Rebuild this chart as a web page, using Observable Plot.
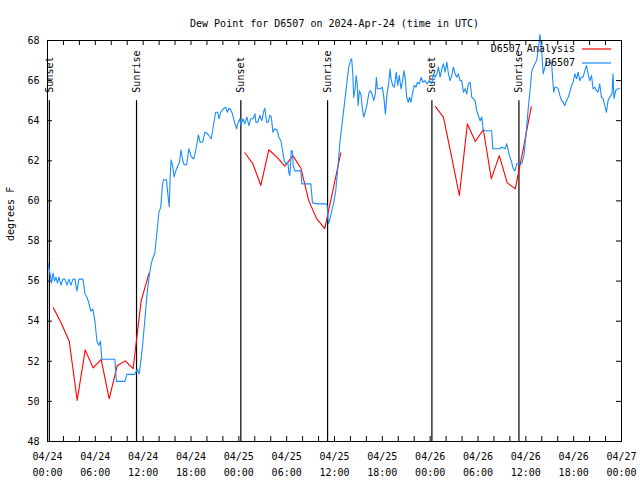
<!DOCTYPE html>
<html>
<head>
<meta charset="utf-8">
<script src="https://cdn.jsdelivr.net/npm/d3@7"></script>
<script src="https://cdn.jsdelivr.net/npm/@observablehq/plot@0.6"></script>
<style>
  html, body { margin: 0; padding: 0; background: #fff; }
  #chart { width: 640px; height: 480px; }
</style>
</head>
<body>
<div id="chart"></div>
<script>
// ---------- data ----------
const titleText = "Dew Point for D6507 on 2024-Apr-24 (time in UTC)";
const yLabel = "degrees F";
const startTime = "2024-04-24T00:00:00Z";
const endTime = "2024-04-27T00:00:00Z";
const yDomain = [48, 68];
const yTicks = [48, 50, 52, 54, 56, 58, 60, 62, 64, 66, 68];

const seriesNames = ["D6507 Analysis", "D6507"];
const seriesColors = ["#ff0000", "#1a8cff"];

// sunrise / sunset events
const eventTimes = ["2024-04-24T00:14:00Z", "2024-04-24T11:10:00Z", "2024-04-25T00:15:00Z",
                    "2024-04-25T11:08:00Z", "2024-04-26T00:13:00Z", "2024-04-26T11:08:00Z"];
const eventLabels = ["Sunset", "Sunrise", "Sunset", "Sunrise", "Sunset", "Sunrise"];
const eventLineTop = 65;

// D6507 Analysis: hours since start, dew point (null = gap)
const anaHours = [0.73, 1.73, 2.73, 3.72, 4.73, 5.73, 6.73, 7.74, 8.74, 9.74, 10.74, 11.74, 12.74,
  null,
  24.76, 25.76, 26.76, 27.76, 28.77, 29.77, 30.78, 31.78, 32.78, 33.78, 34.78, 35.79, 36.79,
  null,
  48.66, 49.66, 50.66, 51.66, 52.67, 53.67, 54.67, 55.67, 56.67, 57.67, 58.67, 59.68, 60.68];
const anaValues = [54.67, 53.9, 53.0, 50.05, 52.57, 51.67, 52.1, 50.13, 51.78, 52.02, 51.63, 55.0, 56.4,
  null,
  62.4, 61.85, 60.77, 62.55, 62.18, 61.73, 62.26, 61.63, 60.0, 59.1, 58.62, 60.5, 62.4,
  null,
  64.7, 64.18, 62.26, 60.27, 63.84, 62.96, 63.56, 61.1, 62.26, 60.9, 60.6, 62.6, 64.7];

// D6507 observations: hours since start, dew point
const obsHours = [0.06,0.31,0.50,0.69,0.88,1.06,1.25,1.44,1.69,1.94,2.19,2.44,2.69,2.94,3.19,3.44,3.69,3.94,4.19,4.44,
  4.69,4.94,5.19,5.44,5.69,5.95,6.20,6.45,6.64,6.82,7.57,8.45,8.64,9.70,9.95,10.95,11.27,11.49,11.71,11.95,
  12.24,12.52,12.77,13.02,13.27,13.46,13.67,13.80,13.96,14.21,14.42,14.55,14.92,15.17,15.27,15.37,15.50,15.67,15.88,16.09,
  16.30,16.55,16.75,16.96,17.15,17.46,17.72,18.03,18.34,18.59,18.93,19.13,19.46,19.75,20.05,20.25,20.55,20.81,21.10,21.35,
  21.51,21.72,22.06,22.35,22.56,22.76,22.97,23.19,23.47,23.73,23.91,24.14,24.26,24.51,24.76,25.01,25.26,25.51,25.77,26.02,
  26.14,26.39,26.64,26.89,27.14,27.27,27.48,27.69,27.89,28.07,28.27,28.52,28.77,29.02,29.27,29.45,29.70,29.90,30.15,30.27,
  30.40,30.57,30.70,30.82,31.02,31.78,31.90,33.03,33.24,33.83,34.91,35.08,35.24,35.37,35.66,35.91,36.16,36.41,36.66,36.91,
  37.16,37.41,37.58,37.79,38.00,38.16,38.29,38.41,38.59,38.71,38.84,38.96,39.13,39.34,39.50,39.66,39.84,40.09,40.29,40.50,
  40.71,40.92,41.13,41.25,41.38,41.75,42.00,42.21,42.38,42.59,42.79,42.97,43.09,43.29,43.50,43.75,43.92,44.13,44.34,44.55,
  44.72,44.88,45.05,45.26,45.41,45.58,45.78,46.00,46.21,46.41,46.66,46.87,47.09,47.34,47.59,47.91,48.21,48.41,48.62,48.84,
  49.04,49.25,49.46,49.66,49.87,50.09,50.29,50.50,50.71,50.91,51.13,51.34,51.54,51.75,51.97,52.17,52.38,52.59,52.79,53.00,
  53.22,53.42,53.63,53.84,54.04,54.26,54.47,54.67,55.72,55.85,56.76,56.97,57.39,57.60,57.80,58.01,58.22,58.42,58.64,58.85,
  59.48,59.76,60.01,60.30,60.55,60.73,60.93,61.14,61.35,61.55,61.77,61.98,62.18,62.39,62.60,63.02,63.23,63.43,63.52,63.64,
  63.85,64.06,64.27,64.48,64.68,64.89,65.10,65.31,65.52,65.73,65.94,66.15,66.36,66.56,66.77,66.98,67.18,67.40,67.61,67.81,
  68.02,68.24,68.44,68.65,68.86,69.06,69.27,69.48,69.69,69.90,70.11,70.31,70.52,70.81,70.93,71.06,71.27,71.48,71.77];
const obsValues = [56.9,56.4,55.9,56.4,56.0,56.2,55.9,56.2,55.8,56.1,56.1,55.8,56.1,55.8,56.1,56.1,55.5,56.1,56.1,56.1,
  55.4,55.2,54.9,54.5,54.6,54.0,53.0,52.8,53.0,52.1,52.1,52.1,51.0,51.0,51.35,51.35,51.6,51.37,52.0,52.9,
  54.2,55.5,56.3,56.9,57.2,57.4,58.2,58.7,59.4,59.7,60.8,61.05,61.05,60.05,59.7,61.0,62.05,61.8,61.2,61.5,
  61.7,61.93,62.55,62.0,61.8,61.8,62.6,62.2,62.1,62.5,63.3,62.93,62.93,63.43,63.35,63.26,63.1,63.76,64.42,64.42,
  64.1,64.42,64.6,64.67,64.42,64.62,64.56,64.34,63.9,63.6,63.9,64.1,63.76,64.1,63.85,64.18,63.76,64.1,64.1,64.34,
  63.93,63.93,64.26,64.0,64.5,64.62,63.93,63.93,64.26,64.2,63.43,63.6,63.55,63.18,63.0,62.6,62.0,61.85,61.93,61.43,
  61.27,62.5,62.5,61.77,61.5,61.5,60.85,60.85,59.9,59.85,59.85,59.77,58.86,59.0,59.5,59.93,60.52,61.6,62.85,63.7,
  64.55,65.4,66.0,66.67,67.0,67.09,66.34,65.17,65.59,66.25,65.84,64.76,65.5,65.26,64.6,64.18,64.42,64.84,65.34,65.5,
  65.34,65.0,65.34,66.17,65.59,65.59,65.67,65.1,64.34,65.34,65.84,66.59,66.09,65.76,65.67,66.42,65.76,66.25,65.59,66.0,
  66.5,66.09,65.17,64.92,65.17,64.92,65.34,65.76,65.67,65.92,65.84,66.17,65.92,66.0,65.84,66.0,65.84,66.34,66.17,66.34,
  66.67,66.17,66.59,66.84,66.42,66.92,66.34,66.0,66.25,66.67,66.34,66.17,66.34,66.0,66.0,65.42,65.59,65.34,65.84,65.92,
  65.17,65.1,65.0,64.5,64.26,64.0,64.18,63.5,63.5,62.6,62.6,62.68,62.6,62.85,62.5,62.18,61.93,61.6,61.5,61.85,
  61.85,62.26,63.26,64.6,65.59,66.42,66.67,66.84,67.0,67.5,68.3,67.5,66.34,66.67,66.92,66.92,66.84,65.76,65.42,65.67,
  65.67,65.59,65.26,65.0,64.92,64.76,65.0,65.17,65.42,65.76,65.92,66.34,66.09,66.42,66.0,66.17,66.17,66.5,66.75,66.34,
  66.0,66.25,65.59,65.67,65.5,65.42,65.84,65.17,65.1,64.76,64.42,65.0,65.17,65.34,66.34,65.1,65.5,65.59,65.59];

// ---------- build ----------
(function () {
const t0 = new Date(startTime);
const toDate = h => (h == null ? null : new Date(+t0 + h * 3600e3));
const analysis = anaHours.map((h, i) => ({time: toDate(h), value: anaValues[i]}));
const observed = obsHours.map((h, i) => ({time: toDate(h), value: obsValues[i]}));
const events = eventTimes.map((t, i) => ({time: new Date(t), label: eventLabels[i]}));
const xDomain = [new Date(startTime), new Date(endTime)];
const majorTicks = d3.utcHour.every(6).range(xDomain[0], new Date(+xDomain[1] + 1));
const minorTicks = d3.utcHour.every(2).range(xDomain[0], new Date(+xDomain[1] + 1));
const fmt = d3.utcFormat("%m/%d\n%H:%M");
const FONT = "DejaVu Sans Mono";

const W = 640, H = 480, mT = 40, mB = 39, mL = 47, mR = 19;
const frameW = W - mL - mR, frameH = H - mT - mB;
const TK = 5; // inward tick length in px

const chart = Plot.plot({
  width: W,
  height: H,
  marginTop: mT,
  marginBottom: mB,
  marginLeft: mL,
  marginRight: mR,
  style: {fontFamily: FONT, fontSize: "10px", background: "#fff", color: "#000"},
  x: {type: "utc", domain: xDomain, axis: null, label: null},
  y: {domain: yDomain, axis: null, label: null},
  marks: [
    Plot.axisX({anchor: "bottom", ticks: majorTicks, tickSize: 0, tickPadding: 7, tickFormat: fmt, lineHeight: 1.6, label: null}),
    Plot.axisY({anchor: "left", ticks: yTicks, tickSize: 0, tickPadding: 8, label: null}),
    // inward, mirrored ticks (gnuplot style)
    Plot.ruleX(minorTicks, {x: d => d, insetTop: frameH - TK, stroke: "#000", strokeWidth: 1}),
    Plot.ruleX(minorTicks, {x: d => d, insetBottom: frameH - TK, stroke: "#000", strokeWidth: 1}),
    Plot.ruleY(yTicks, {y: d => d, insetRight: frameW - TK, stroke: "#000", strokeWidth: 1}),
    Plot.ruleY(yTicks, {y: d => d, insetLeft: frameW - TK, stroke: "#000", strokeWidth: 1}),
    Plot.ruleX(events, {x: "time", y1: yDomain[0], y2: eventLineTop, stroke: "#000", strokeWidth: 1.2}),
    Plot.text(events, {x: "time", y: eventLineTop, text: "label", rotate: -90, textAnchor: "start", dy: -8, fill: "#000"}),
    Plot.line(analysis, {x: "time", y: "value", stroke: seriesColors[0], strokeWidth: 1.1}),
    Plot.line(observed, {x: "time", y: "value", stroke: seriesColors[1], strokeWidth: 1.1}),
    Plot.frame({stroke: "#000"}),
    Plot.text([titleText], {frameAnchor: "top", dy: -21, fill: "#000"}),
    Plot.text([yLabel], {frameAnchor: "left", rotate: -90, dx: -37, fill: "#000"})
  ]
});
document.getElementById("chart").appendChild(chart);

// legend (top-right, inside the frame)
const svg = d3.select(chart);
const lg = svg.append("g").attr("font-family", FONT).attr("font-size", 10);
seriesNames.forEach((name, i) => {
  const ly = 49 + i * 14;
  lg.append("text").attr("x", 575).attr("y", ly).attr("dy", "0.32em")
    .attr("text-anchor", "end").attr("fill", "#000").text(name);
  lg.append("line").attr("x1", 582).attr("x2", 611).attr("y1", ly).attr("y2", ly)
    .attr("stroke", seriesColors[i]).attr("stroke-width", 1.2);
});
})();
</script>
</body>
</html>
